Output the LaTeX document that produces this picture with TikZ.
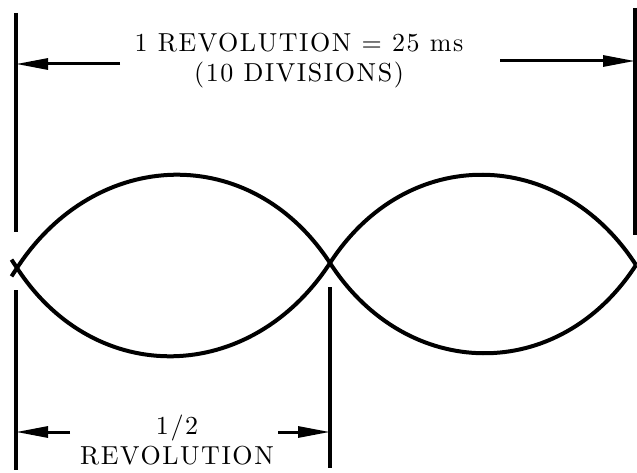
\documentclass[tikz,border=0pt]{standalone}
\usepackage{fontspec}
\usetikzlibrary{arrows.meta}
\newfontfamily\dimfont{lmroman10-regular.otf}[LetterSpace=6]
\tikzset{
	extline/.style={line width=3.2pt},
	dimarrow/.style={line width=3pt,-{Triangle[length=32pt,width=11pt]}},
	lobe/.style={line width=4pt},
	dimtext/.style={inner sep=0pt,align=center,anchor=base,
		font=\dimfont\fontsize{26}{30}\selectfont}
}
\begin{document}
\begin{tikzpicture}[x=1pt,y=-1pt]
	\useasboundingbox (0,0) rectangle (637,473);
	\coordinate (L) at (17,268);
	\coordinate (M) at (330,263);
	\coordinate (R) at (636,265);
	\coordinate (Ltop) at (16,13);
	\coordinate (Lgapa) at (16,232);
	\coordinate (Lgapb) at (16,290);
	\coordinate (Lbot) at (16,470);
	\coordinate (Mtop) at (330,287);
	\coordinate (Mbot) at (330,468);
	\coordinate (Rtop) at (635,8);
	\coordinate (Rbot) at (635,235);
	\draw[extline] (Ltop) -- (Lgapa);
	\draw[extline] (Lgapb) -- (Lbot);
	\draw[extline] (Mtop) -- (Mbot);
	\draw[extline] (Rtop) -- (Rbot);
	\draw[lobe] (L) ++(-5.5,8.4) -- (L) .. controls (96,147) and (251,142) .. (M);
	\draw[lobe] (L) ++(-5.5,-8.4) -- (L) .. controls (96,389) and (251,384) .. (M);
	\draw[lobe] (M) .. controls (407,144) and (559,146) .. (R);
	\draw[lobe] (M) .. controls (407,382) and (559,384) .. (R);
	\node[dimtext] (rev) at (299,82) {1 REVOLUTION = 25 ms\\(10 DIVISIONS)};
	\node[dimtext] (half) at (177,464) {1/2\\REVOLUTION};
	\coordinate (revL) at (120,64);
	\coordinate (revR) at (500,61);
	\coordinate (halfL) at (70,432);
	\coordinate (halfR) at (278,432);
	\draw[dimarrow] (revL) -- (revL -| Ltop);
	\draw[dimarrow] (revR) -- (revR -| Rtop);
	\draw[dimarrow] (halfL) -- (halfL -| Lbot);
	\draw[dimarrow] (halfR) -- (halfR -| Mbot);
\end{tikzpicture}
\end{document}
